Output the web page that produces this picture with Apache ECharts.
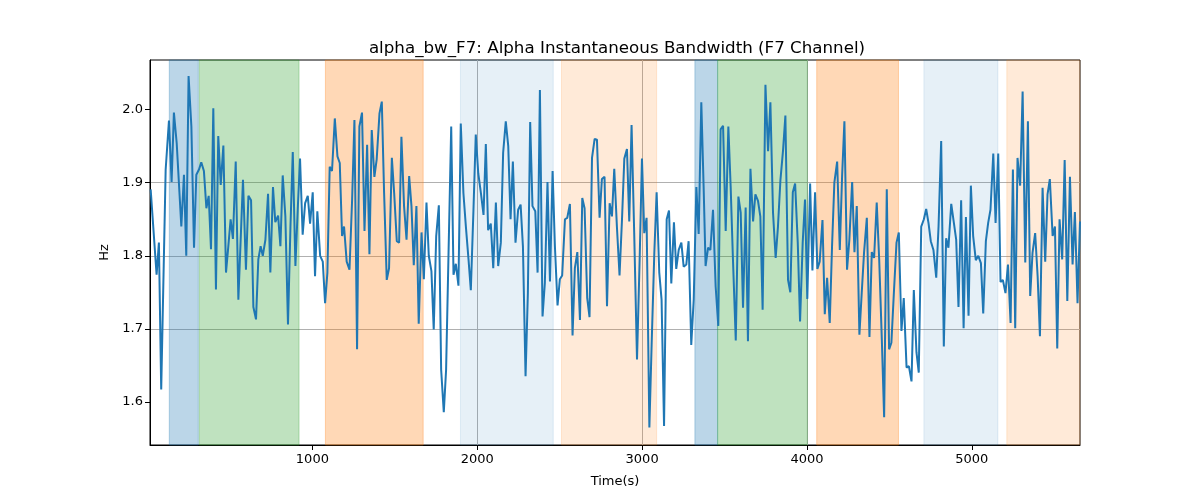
<!DOCTYPE html>
<html>
<head>
<meta charset="utf-8">
<script src="https://cdn.jsdelivr.net/npm/echarts@6/dist/echarts.min.js"></script>
<style>html,body{margin:0;padding:0;background:#fff}#c{width:1200px;height:500px}</style>
</head>
<body>
<div id="c"></div>
<script>
const titleText = 'alpha_bw_F7: Alpha Instantaneous Bandwidth (F7 Channel)';
const xLabel = 'Time(s)';
const yLabel = 'Hz';
const xTicks = [1000, 2000, 3000, 4000, 5000];
const yTicks = [1.6, 1.7, 1.8, 1.9, 2.0];
const xRange = [15, 5656];
const yRange = [1.541, 2.068];

const times = [
19,55,69,83,110,130,146,160,177,205,221,235,249,266,282,296,312,326,342,357,371,385,399,415,429,444,460,476,490,504,518,535,551,579,
597,612,628,642,658,672,686,699,715,731,745,761,775,792,806,820,836,852,867,881,897,911,925,941,956,972,986,1002,1016,1030,1047,1063,1077,1091,1105,1119,1136,
1152,1166,1180,1192,1208,1225,1241,1255,1271,1285,1301,1316,1332,1346,1360,1376,1390,1407,1421,1435,1451,1465,1482,1496,1512,1526,1540,1556,1571,1587,1601,1615,1631,1645,1662,1676,1692,
1706,1722,1736,1751,1767,1781,1797,1811,1825,1842,1856,1870,1886,1900,1916,1931,1947,1961,1977,1991,2006,2022,2038,2052,2066,2082,2097,2113,2127,2143,2157,2173,2188,2202,2216,2232,2248,
2263,2277,2293,2307,2321,2335,2352,2366,2380,2396,2410,2426,2441,2457,2471,2487,2501,2515,2532,2546,2562,2578,2592,2607,2623,2637,2651,2667,2681,2696,2712,2726,2742,2756,2772,2787,2803,
2817,2831,2847,2863,2878,2892,2908,2922,2936,2952,2969,2985,2999,3013,3027,3044,3058,3074,3088,3104,3118,3133,3149,3163,3177,3193,3207,3222,3238,3252,3268,3282,3298,3313,3329,3343,3359,
3373,3385,3400,3414,3430,3446,3462,3476,3491,3507,3523,3537,3551,3568,3584,3598,3612,3628,3642,3657,3673,3687,3703,3717,3731,3748,3764,3778,3794,3810,3824,3839,3855,3869,3885,3899,3914,3928,
3944,3958,3974,3988,4002,4019,4033,4049,4063,4077,4094,4108,4122,4138,4152,4166,4183,4199,4213,4227,4243,4257,4274,4288,4302,4318,4332,4346,4363,4379,4393,4407,4423,4438,4454,4468,4484,
4498,4512,4527,4543,4557,4573,4587,4604,4618,4634,4648,4664,4678,4693,4709,4723,4737,4751,4767,4784,4798,4814,4830,4844,4858,4875,4891,4905,4919,4935,4950,4964,4980,4994,5008,5024,5039,
5055,5069,5085,5099,5113,5130,5144,5160,5174,5188,5204,5219,5235,5249,5263,5277,5293,5308,5324,5340,5354,5368,5384,5399,5413,5429,5445,5459,5473,5490,5504,5518,5532,5548,5563,5579,5595,5611,5625,5641,5656
];
const hz = [
1.891,1.774,1.818,1.617,1.918,1.985,1.901,1.996,1.954,1.840,1.911,1.800,2.046,1.977,1.811,1.911,1.918,1.928,1.916,1.865,1.882,1.809,2.002,1.754,1.964,1.897,1.951,1.777,1.813,1.850,1.823,1.929,1.740,1.904,
1.781,1.882,1.876,1.730,1.713,1.795,1.813,1.800,1.822,1.885,1.777,1.894,1.846,1.855,1.813,1.910,1.854,1.706,1.840,1.942,1.786,1.863,1.933,1.829,1.872,1.882,1.844,1.887,1.772,1.861,1.800,1.792,1.735,1.777,1.922,1.916,1.988,
1.936,1.927,1.827,1.840,1.792,1.781,1.877,1.986,1.672,1.977,1.996,1.834,1.952,1.802,1.972,1.908,1.932,1.995,2.011,1.886,1.767,1.783,1.934,1.886,1.820,1.818,1.963,1.868,1.822,1.909,1.868,1.787,1.868,1.707,1.832,1.768,1.873,
1.800,1.779,1.699,1.827,1.869,1.644,1.586,1.644,1.795,1.977,1.774,1.789,1.759,1.981,1.886,1.840,1.795,1.753,1.863,1.966,1.913,1.886,1.856,1.953,1.835,1.844,1.783,1.873,1.786,1.818,1.941,1.984,1.950,1.850,1.929,1.818,1.863,
1.870,1.813,1.635,1.749,1.983,1.868,1.861,1.777,2.027,1.717,1.763,1.901,1.765,1.916,1.813,1.732,1.768,1.773,1.850,1.852,1.871,1.691,1.783,1.805,1.712,1.879,1.865,1.742,1.716,1.934,1.960,1.959,1.852,1.905,1.908,1.731,1.872,
1.854,1.919,1.840,1.773,1.850,1.933,1.946,1.847,1.979,1.831,1.658,1.795,1.933,1.831,1.852,1.565,1.681,1.804,1.887,1.777,1.740,1.567,1.850,1.862,1.762,1.846,1.782,1.808,1.818,1.785,1.788,1.820,1.678,1.740,1.894,1.830,2.010,
1.895,1.786,1.811,1.808,1.863,1.758,1.704,1.973,1.978,1.834,1.977,1.895,1.795,1.684,1.881,1.859,1.729,1.866,1.683,1.919,1.847,1.884,1.875,1.854,1.726,2.034,1.943,2.010,1.859,1.797,1.840,1.904,1.945,1.992,1.767,1.750,1.887,1.899,
1.818,1.710,1.818,1.877,1.741,1.899,1.780,1.887,1.782,1.792,1.849,1.720,1.770,1.708,1.813,1.900,1.929,1.808,1.909,1.984,1.781,1.822,1.901,1.805,1.868,1.692,1.749,1.804,1.852,1.689,1.805,1.797,1.873,1.795,1.685,1.579,1.891,
1.672,1.681,1.749,1.818,1.832,1.697,1.742,1.647,1.649,1.628,1.753,1.668,1.640,1.840,1.850,1.864,1.845,1.820,1.808,1.770,1.840,1.957,1.676,1.824,1.811,1.871,1.845,1.822,1.730,1.876,1.701,1.853,1.718,1.896,1.827,1.794,1.800,
1.790,1.721,1.820,1.845,1.863,1.940,1.845,1.940,1.764,1.767,1.749,1.788,1.708,1.918,1.701,1.934,1.896,2.025,1.791,1.984,1.745,1.804,1.831,1.772,1.690,1.893,1.792,1.884,1.905,1.827,1.840,1.673,1.850,1.795,1.931,1.738,1.908,1.788,1.860,1.735,1.847
];

// shaded intervals: start, end, colour key
const spanStarts = [132, 314, 1079, 1898, 2511, 3320, 3458, 4059, 4709, 5212];
const spanEnds   = [308, 919, 1672, 2461, 3088, 3458, 4002, 4555, 5158, 5656];
const spanKinds  = ['blue','green','orange','lblue','lorange','blue','green','orange','lblue','lorange'];

const kindStyle = {
  blue:    'rgba(31,119,180,0.3)',
  green:   'rgba(44,160,44,0.3)',
  orange:  'rgba(255,127,14,0.3)',
  lblue:   'rgba(31,119,180,0.11)',
  lorange: 'rgba(255,127,14,0.16)'
};

const areas = spanStarts.map((s, i) => [
  { xAxis: s, itemStyle: { color: kindStyle[spanKinds[i]], borderColor: kindStyle[spanKinds[i]], borderWidth: 1 } },
  { xAxis: spanEnds[i] }
]);

const chart = echarts.init(document.getElementById('c'), null, { renderer: 'canvas' });
const font = 'DejaVu Sans';
chart.setOption({
  animation: false,
  backgroundColor: '#ffffff',
  title: {
    text: titleText, left: 612, top: 35, textAlign: 'center',
    textStyle: { fontFamily: font, fontSize: 16.7, fontWeight: 'normal', color: '#000' }
  },
  grid: { left: 150, right: 120, top: 60, bottom: 55, show: true, borderColor: '#000', borderWidth: 1, backgroundColor: 'transparent' },
  xAxis: {
    type: 'value', min: xRange[0], max: xRange[1],
    name: xLabel, nameLocation: 'middle', nameGap: 30,
    nameTextStyle: { fontFamily: font, fontSize: 13, color: '#000' },
    axisLine: { show: true, onZero: false, lineStyle: { color: '#000', width: 1 } },
    axisTick: { show: true, length: 5, lineStyle: { color: '#000' }, customValues: xTicks },
    axisLabel: { fontFamily: font, fontSize: 13, color: '#000', margin: 8, customValues: xTicks, formatter: v => String(Math.round(v)) },
    splitLine: { show: true, showMinLine: false, showMaxLine: false, lineStyle: { color: '#b0b0b0', width: 1 } }
  },
  yAxis: {
    type: 'value', min: yRange[0], max: yRange[1],
    name: yLabel, nameLocation: 'middle', nameGap: 38, nameRotate: 90,
    nameTextStyle: { fontFamily: font, fontSize: 13, color: '#000' },
    axisLine: { show: true, onZero: false, lineStyle: { color: '#000', width: 1 } },
    axisTick: { show: true, length: 5, lineStyle: { color: '#000' }, customValues: yTicks },
    axisLabel: { fontFamily: font, fontSize: 13, color: '#000', margin: 7, customValues: yTicks, formatter: v => v.toFixed(1) },
    splitLine: { show: true, showMinLine: false, showMaxLine: false, lineStyle: { color: '#b0b0b0', width: 1 } }
  },
  series: [
    {
      type: 'line', data: [], z: -1, silent: true,
      markArea: { silent: true, data: areas }
    },
    {
      type: 'line', z: 3,
      data: times.map((t, i) => [t, hz[i]]),
      showSymbol: false, symbol: 'none',
      lineStyle: { color: '#1f77b4', width: 2 },
      itemStyle: { color: '#1f77b4' }
    }
  ]
});
</script>
</body>
</html>
